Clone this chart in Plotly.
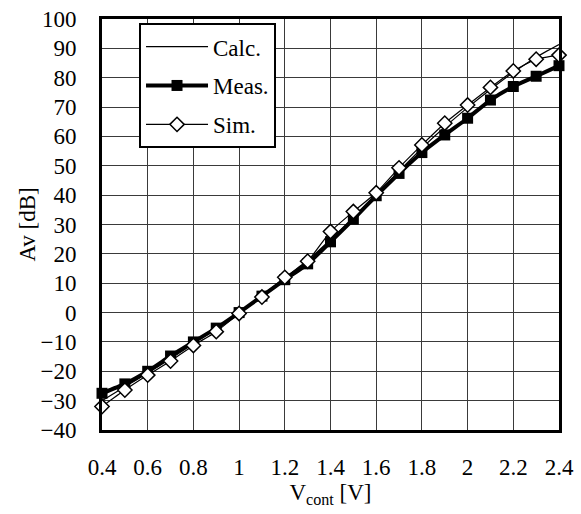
import plotly.graph_objects as go

# Control voltage sweep [V]
v_cont = [0.4, 0.5, 0.6, 0.7, 0.8, 0.9, 1.0, 1.1, 1.2, 1.3, 1.4,
          1.5, 1.6, 1.7, 1.8, 1.9, 2.0, 2.1, 2.2, 2.3, 2.4]

# Voltage gain [dB]
av_calc = [-30.0, -25.3, -20.6, -15.7, -10.6, -5.4, 0.2, 5.8, 11.8, 17.8, 24.8,
           32.2, 40.2, 48.2, 56.0, 63.2, 69.8, 76.0, 81.8, 87.0, 91.3]
av_meas = [-27.5, -24.3, -20.0, -14.8, -10.0, -5.3, 0.0, 5.6, 11.2, 16.6, 24.1,
           31.8, 39.8, 47.4, 54.5, 60.5, 66.2, 72.4, 77.0, 80.5, 84.1]
av_sim = [-32.0, -26.4, -21.3, -16.5, -11.2, -6.5, -0.3, 5.3, 12.0, 17.5, 27.6,
          34.4, 40.8, 49.3, 57.1, 64.5, 70.7, 76.7, 82.3, 86.3, 87.7]

x_ticks = [0.4, 0.6, 0.8, 1, 1.2, 1.4, 1.6, 1.8, 2, 2.2, 2.4]
y_ticks = list(range(-40, 101, 10))

FONT = "Liberation Serif, Times New Roman, serif"
FS = 23

fig = go.Figure()

fig.add_trace(go.Scatter(
    x=v_cont, y=av_calc, name="Calc.", mode="lines",
    line=dict(color="black", width=1.2, shape="spline", smoothing=0.5),
    legendgroup="calc", cliponaxis=False,
))
fig.add_trace(go.Scatter(
    x=v_cont, y=av_meas, name="Meas.", mode="lines+markers",
    line=dict(color="black", width=4, shape="spline", smoothing=0.5),
    marker=dict(symbol="square", size=11, color="black"),
    legendgroup="meas", cliponaxis=False,
))
fig.add_trace(go.Scatter(
    x=v_cont, y=av_sim, name="Sim.", mode="lines+markers",
    line=dict(color="black", width=1.2, shape="spline", smoothing=0.5),
    marker=dict(symbol="diamond", size=11, color="white",
                line=dict(color="black", width=1.5)),
    legendgroup="sim", cliponaxis=False,
))

# Invisible outside ticks push the labels away from the frame
axis_common = dict(
    showgrid=True, gridcolor="#3a3a3a", gridwidth=1,
    showline=True, linecolor="black", linewidth=3, mirror=True,
    zeroline=False, ticks="outside", tickcolor="rgba(0,0,0,0)",
    tickfont=dict(family=FONT, size=FS, color="black"),
)

fig.update_xaxes(
    range=[0.4, 2.4], tickvals=x_ticks,
    ticktext=[f"{t:g}" for t in x_ticks],
    ticklen=14,
    title=dict(text="V<sub>cont</sub> [V]", font=dict(family=FONT, size=FS, color="black"),
               standoff=6),
    **axis_common,
)
fig.update_yaxes(
    range=[-40, 100], tickvals=y_ticks,
    ticklen=18,
    **axis_common,
)

# Vertical axis title
fig.add_annotation(
    text="Av [dB]", textangle=-90, showarrow=False,
    xref="paper", yref="paper", x=-0.164, y=0.5,
    xanchor="center", yanchor="middle",
    font=dict(family=FONT, size=FS, color="black"),
)

fig.update_layout(
    width=581, height=514,
    margin=dict(l=102, r=22, t=19, b=84, autoexpand=False),
    plot_bgcolor="white", paper_bgcolor="white",
    font=dict(family=FONT, size=FS, color="black"),
    legend=dict(
        x=0.081, y=0.99, xanchor="left", yanchor="top",
        bgcolor="white", bordercolor="black", borderwidth=2,
        font=dict(family=FONT, size=FS, color="black"),
        tracegroupgap=6, traceorder="grouped", itemwidth=62,
    ),
    showlegend=True,
)

fig.write_html("out.html")
